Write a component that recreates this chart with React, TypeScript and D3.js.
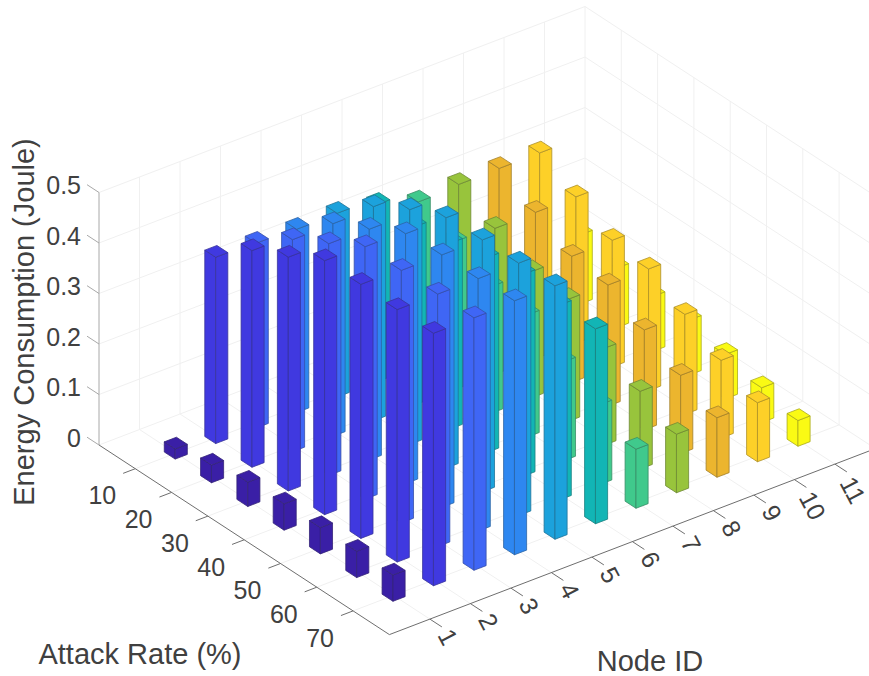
import React from 'react';
import * as d3 from 'd3';

const attackRates = [10, 20, 30, 40, 50, 60, 70];
const nodeIds = [1, 2, 3, 4, 5, 6, 7, 8, 9, 10, 11];
const zTicks = [0, 0.1, 0.2, 0.3, 0.4, 0.5];

// energy per node, one value per attack rate
const node1 = [0.02, 0.035, 0.048, 0.052, 0.052, 0.052, 0.052];
const node2 = [0.369, 0.429, 0.463, 0.503, 0.503, 0.5, 0.5];
const node3 = [0.366, 0.42, 0.459, 0.5, 0.5, 0.5, 0.5];
const node4 = [0.363, 0.421, 0.457, 0.495, 0.5, 0.5, 0.503];
const node5 = [0.364, 0.424, 0.465, 0.496, 0.499, 0.5, 0.502];
const node6 = [0.351, 0.353, 0.368, 0.386, 0.4, 0.386, 0.386];
const node7 = [0.325, 0.293, 0.251, 0.242, 0.196, 0.158, 0.117];
const node8 = [0.329, 0.289, 0.25, 0.242, 0.192, 0.154, 0.116];
const node9 = [0.33, 0.29, 0.25, 0.24, 0.198, 0.155, 0.118];
const node10 = [0.33, 0.29, 0.251, 0.241, 0.198, 0.154, 0.117];
const node11 = [0.137, 0.118, 0.109, 0.109, 0.088, 0.069, 0.051];
const energy = [node1, node2, node3, node4, node5, node6, node7, node8, node9, node10, node11];

const nodeColors = ['#3a1fa6', '#4039e0', '#3f66f5', '#2e87f0', '#1ca2dc', '#12b5b5', '#40c98c', '#98c43c', '#ecb52e', '#fdd028', '#fafa14'];

// orthographic projection: each data axis gets its own pair of pixel scales
const nodeX = d3.scaleLinear().domain([0, 12]).range([0, 486]);
const nodeY = d3.scaleLinear().domain([0, 12]).range([0, -186]);
const rateX = d3.scaleLinear().domain([0, 80]).range([0, 290.4]);
const rateY = d3.scaleLinear().domain([0, 80]).range([0, 189.6]);
const zY = d3.scaleLinear().domain([0, 0.5]).range([0, -252.5]);
const originX = 99;
const originY = 445;

const project = (node: number, rate: number, z: number): [number, number] => [
  originX + nodeX(node) + rateX(rate),
  originY + nodeY(node) + rateY(rate) + zY(z),
];

const line = d3.line();
const closedLine = d3.line().curve(d3.curveLinearClosed);
const seg = (a: [number, number], b: [number, number]) => line([a, b]) as string;

const halfNode = 0.15;
const halfRate = 1.5;
const fontFamily = '"Liberation Sans", Arial, sans-serif';
const axisColor = '#6e6e6e';
const textColor = '#404040';

const Bar = ({ node, rate, value, color }: { node: number; rate: number; value: number; color: string }) => {
  const n0 = node - halfNode;
  const n1 = node + halfNode;
  const r0 = rate - halfRate;
  const r1 = rate + halfRate;
  const edge = d3.interpolateRgb(color, '#2a2a2a')(0.38);
  const left = [project(n0, r0, 0), project(n0, r1, 0), project(n0, r1, value), project(n0, r0, value)];
  const right = [project(n0, r1, 0), project(n1, r1, 0), project(n1, r1, value), project(n0, r1, value)];
  const top = [project(n0, r0, value), project(n0, r1, value), project(n1, r1, value), project(n1, r0, value)];
  return (
    <g stroke={edge} strokeWidth={0.8} strokeLinejoin="round">
      {[left, right, top].map((face, i) => (
        <path key={i} d={closedLine(face) as string} fill={color} />
      ))}
    </g>
  );
};

export default function App() {
  // back to front: low attack rate and high node id first
  const bars = attackRates.flatMap((rate, r) =>
    [...nodeIds].reverse().map(node => ({ node, rate, value: energy[node - 1][r], color: nodeColors[node - 1] }))
  );
  const grid: string[] = [];
  nodeIds.forEach(n => {
    grid.push(seg(project(n, 0, 0), project(n, 80, 0)));
    grid.push(seg(project(n, 0, 0), project(n, 0, 0.5)));
  });
  attackRates.forEach(r => {
    grid.push(seg(project(0, r, 0), project(12, r, 0)));
    grid.push(seg(project(12, r, 0), project(12, r, 0.5)));
  });
  zTicks.forEach(z => {
    grid.push(seg(project(0, 0, z), project(12, 0, z)));
    grid.push(seg(project(12, 0, z), project(12, 80, z)));
  });
  grid.push(seg(project(12, 0, 0), project(12, 0, 0.5)));
  const tickText = { fontFamily, fontSize: 25, fill: textColor };
  const titleText = { fontFamily, fontSize: 29, fill: textColor };

  return (
    <svg width={869} height={676} style={{ position: 'absolute', left: 0, top: 0, background: '#fff' }}>
      <path d={grid.join('')} fill="none" stroke="#f0f0f0" strokeWidth={1} />

      {/* axes */}
      <path d={seg(project(0, 0, 0), project(0, 0, 0.5))} stroke="#a8a8a8" fill="none" />
      <path d={seg(project(0, 0, 0), project(0, 80, 0))} stroke={axisColor} fill="none" />
      <path d={seg(project(0, 80, 0), project(12, 80, 0))} stroke={axisColor} fill="none" />

      {zTicks.map(z => {
        const [x, y] = project(0, 0, z);
        return (
          <g key={z}>
            <path d={seg([x, y], project(0, -3.3, z))} stroke="#a8a8a8" fill="none" />
            <text x={x - 18} y={y - 7} dy="0.35em" textAnchor="end" {...tickText}>{z}</text>
          </g>
        );
      })}
      {attackRates.map(r => {
        const [x, y] = project(0, r, 0);
        return (
          <g key={r}>
            <path d={seg([x, y], project(-0.3, r, 0))} stroke={axisColor} fill="none" />
            <text x={x - 33} y={y + 27} dy="0.35em" textAnchor="middle" {...tickText}>{r}</text>
          </g>
        );
      })}
      {nodeIds.map(n => {
        const [x, y] = project(n, 80, 0);
        const dy = n >= 10 ? 26 : 18;
        return (
          <g key={n}>
            <path d={seg([x, y], project(n, 83.3, 0))} stroke={axisColor} fill="none" />
            <text
              transform={`translate(${x + 18},${y + dy}) rotate(62)`}
              dy="0.35em"
              textAnchor="middle"
              {...tickText}
            >
              {n}
            </text>
          </g>
        );
      })}

      {bars.map(b => <Bar key={`${b.node}-${b.rate}`} {...b} />)}

      <text x={140} y={654} dy="0.35em" textAnchor="middle" {...titleText}>Attack Rate (%)</text>
      <text x={650} y={661} dy="0.35em" textAnchor="middle" {...titleText}>Node ID</text>
      <text transform="translate(24,322) rotate(-90)" dy="0.35em" textAnchor="middle" {...titleText}>
        Energy Consumption (Joule)
      </text>
    </svg>
  );
}
